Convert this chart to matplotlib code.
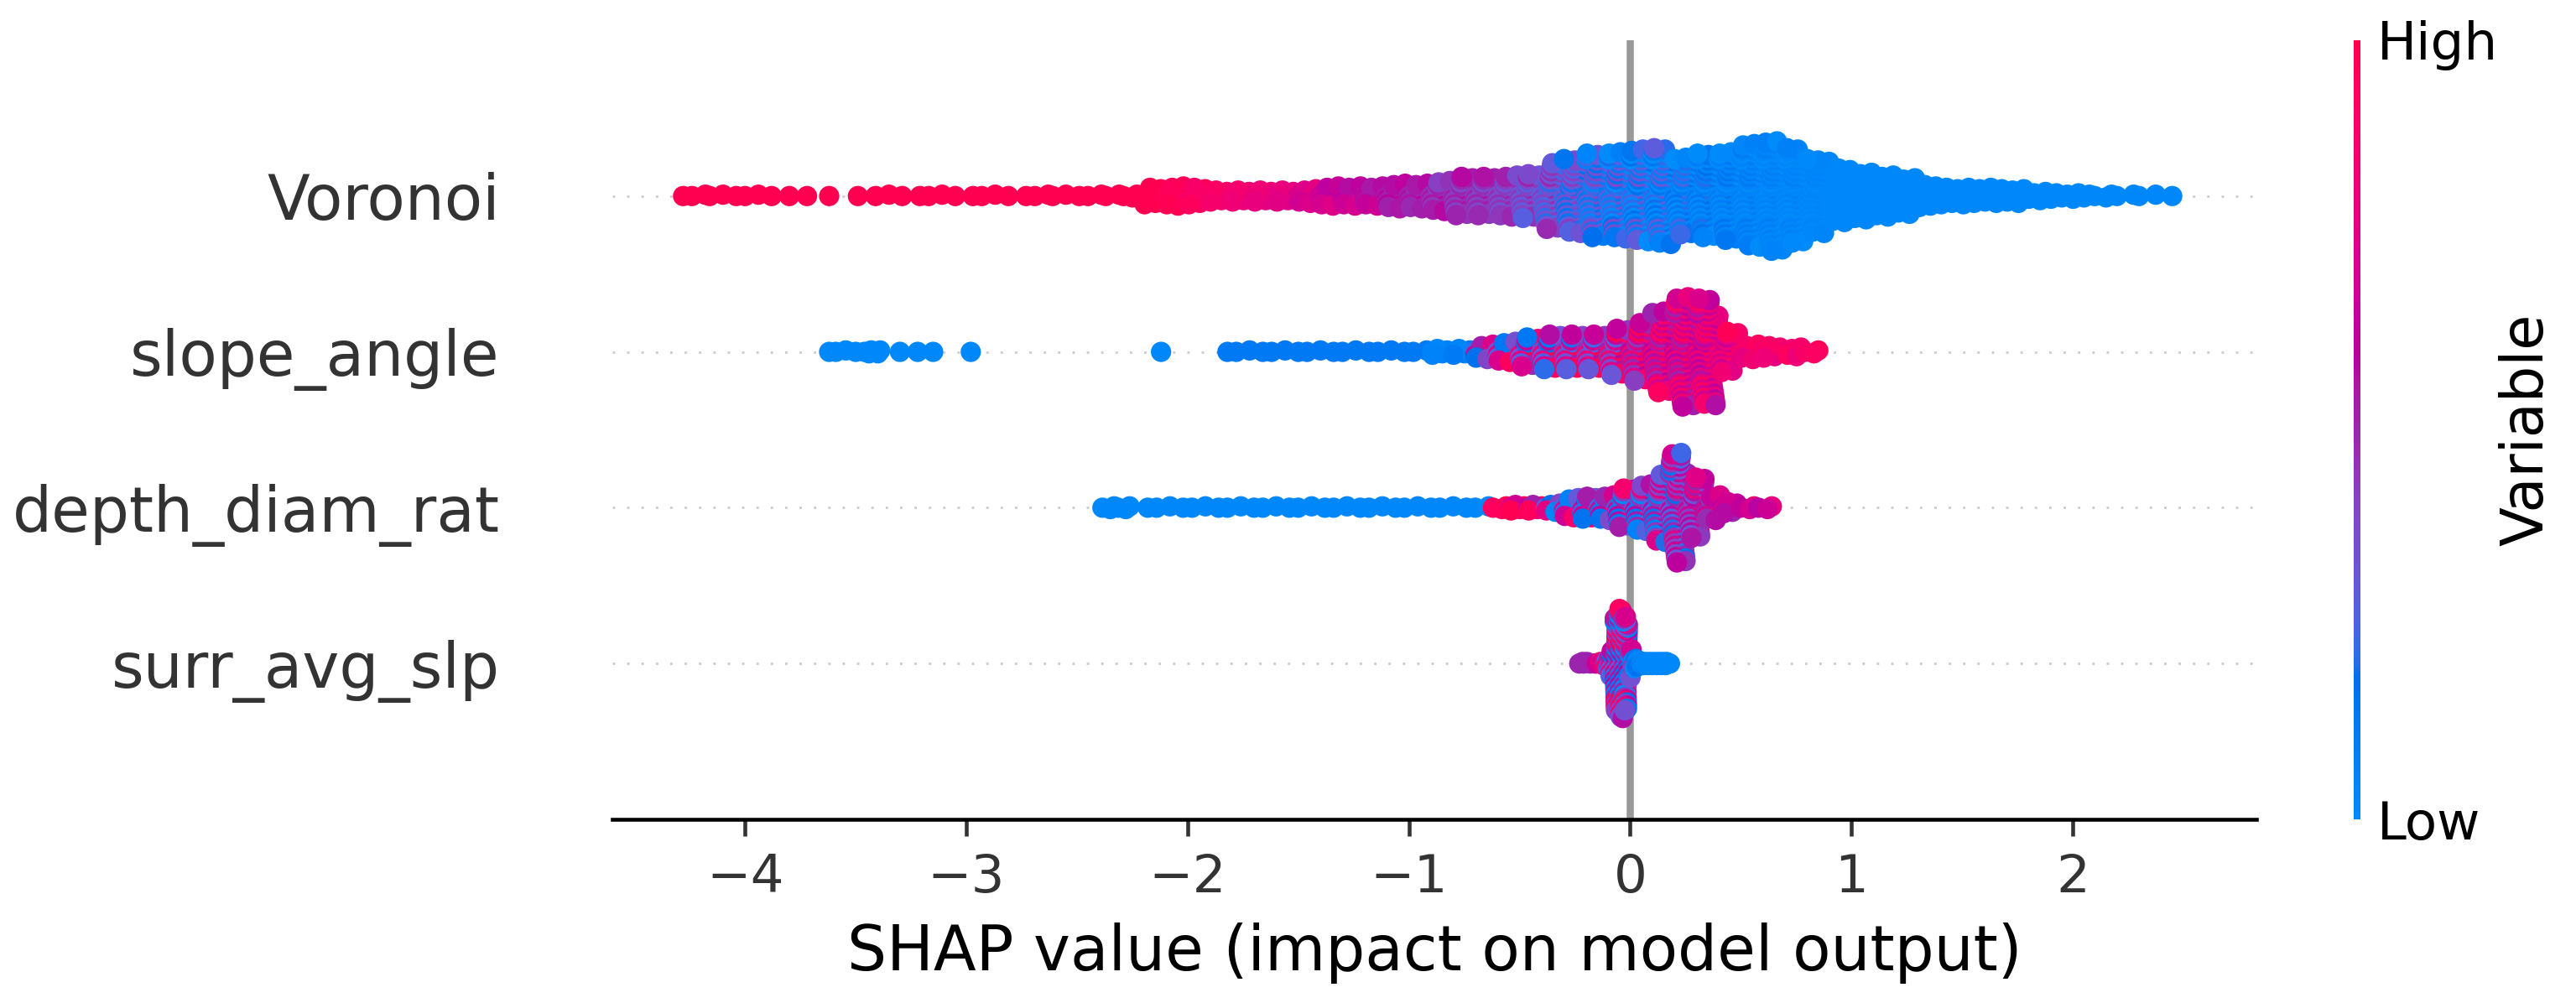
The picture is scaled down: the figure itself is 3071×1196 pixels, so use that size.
import numpy as np
import matplotlib
matplotlib.use("Agg")
import matplotlib.pyplot as plt
from matplotlib.colors import LinearSegmentedColormap
from matplotlib.cm import ScalarMappable
from matplotlib.colors import Normalize

# ---------------- data ----------------
# rows bottom -> top
feature_names = ["surr_avg_slp", "depth_diam_rat", "slope_angle", "Voronoi"]
xlabel_text = "SHAP value (impact on model output)"
cbar_label = "Variable"
cbar_ticklabels = ["Low", "High"]

# Voronoi: SHAP value bin centres, number of points, mean (normalised) feature value, spread of values
voronoi_x = [-4.28, -4.2, -4.12, -4.04, -3.96, -3.88, -3.8, -3.72, -3.62, -3.49,
             -3.37, -3.29, -3.21, -3.13, -3.05, -2.97, -2.89, -2.81, -2.73, -2.65,
             -2.57, -2.49, -2.41, -2.33, -2.25,
             -2.15, -2.05, -1.95, -1.85, -1.75, -1.65, -1.55, -1.45, -1.35, -1.25,
             -1.15, -1.05, -0.95, -0.85, -0.75, -0.65, -0.55, -0.45, -0.35, -0.25,
             -0.15, -0.05, 0.05, 0.15, 0.25, 0.35, 0.45, 0.55, 0.65, 0.75,
             0.85, 0.95, 1.05, 1.15, 1.25, 1.35, 1.45, 1.55, 1.65, 1.75,
             1.85, 1.95, 2.05, 2.15, 2.25, 2.35, 2.45]
voronoi_n = [1, 2, 2, 1, 2, 1, 1, 1, 1, 1,
             2, 1, 1, 2, 1, 1, 2, 1, 1, 2,
             2, 1, 2, 2, 3,
             13, 15, 13, 9, 9, 9, 9, 11, 15, 15,
             15, 19, 19, 23, 29, 29, 31, 33, 49, 55,
             62, 64, 68, 71, 57, 62, 65, 76, 81, 70,
             55, 40, 35, 31, 27, 17, 13, 13, 12, 11,
             7, 5, 5, 3, 2, 2, 1]
voronoi_c = [1.0] * 25 + \
            [1.0, 0.97, 0.93, 0.9, 0.86, 0.82, 0.78, 0.72, 0.67, 0.63,
             0.6, 0.56, 0.53, 0.5, 0.48, 0.46, 0.42, 0.38, 0.34, 0.28,
             0.22, 0.18, 0.15, 0.13, 0.1, 0.08, 0.06, 0.05, 0.04, 0.03,
             0.03, 0.02, 0.02, 0.02, 0.02, 0.02, 0.02, 0.02, 0.02, 0.02,
             0.02, 0.02, 0.02, 0.02, 0.02, 0.02, 0.02]
voronoi_mix = [0.0] * 25 + \
              [0.0, 0.05, 0.1, 0.1, 0.1, 0.1, 0.1, 0.12, 0.15, 0.15,
               0.15, 0.15, 0.15, 0.2, 0.2, 0.2, 0.2, 0.25, 0.3, 0.3,
               0.35, 0.4, 0.4, 0.35, 0.3, 0.25, 0.2, 0.15, 0.1, 0.1,
               0.05, 0.0, 0.0, 0.0, 0.0, 0.0, 0.0, 0.0, 0.0, 0.0,
               0.0, 0.0, 0.0, 0.0, 0.0, 0.0, 0.0]

slope_x = [-3.62, -3.56, -3.5, -3.44, -3.4, -3.3, -3.22, -3.15, -2.98, -2.12,
           -1.82, -1.74, -1.66, -1.58, -1.5, -1.42, -1.34, -1.26, -1.18, -1.1, -1.02, -0.94,
           -0.85, -0.75, -0.65, -0.55, -0.45, -0.35, -0.25, -0.15, -0.05, 0.05,
           0.15, 0.25, 0.35, 0.45, 0.55, 0.65, 0.75, 0.83]
slope_n = [1, 2, 1, 3, 3, 1, 1, 1, 1, 1,
           1, 2, 1, 2, 1, 2, 1, 2, 1, 2, 1, 2,
           5, 5, 11, 15, 21, 25, 25, 25, 33, 41,
           57, 77, 75, 29, 11, 9, 7, 3]
slope_c = [0.02] * 10 + [0.12] * 12 + \
          [0.05, 0.08, 0.4, 0.5, 0.55, 0.55, 0.6, 0.62, 0.65, 0.7,
           0.72, 0.72, 0.75, 0.8, 0.85, 0.88, 0.9, 0.92]
slope_mix = [0.0] * 22 + \
            [0.05, 0.1, 0.9, 0.95, 0.95, 0.95, 0.9, 0.85, 0.8, 0.6,
             0.5, 0.45, 0.4, 0.35, 0.25, 0.2, 0.15, 0.1]

depth_x = [-2.35, -2.28,
           -2.18, -2.1, -2.02, -1.94, -1.86, -1.78, -1.7, -1.62, -1.54, -1.46,
           -1.38, -1.3, -1.22, -1.14, -1.06, -0.98, -0.9, -0.82, -0.74, -0.66,
           -0.58, -0.5, -0.42, -0.34, -0.26, -0.18, -0.1, -0.02, 0.06, 0.14,
           0.22, 0.3, 0.38, 0.46, 0.54, 0.62]
depth_n = [3, 3,
           1, 2, 1, 2, 1, 2, 1, 2, 1, 2,
           1, 2, 1, 2, 1, 2, 1, 2, 1, 2,
           3, 5, 5, 7, 15, 17, 19, 29, 35, 51,
           81, 45, 19, 9, 3, 3]
depth_c = [0.02] * 22 + \
          [0.95, 0.85, 0.75, 0.5, 0.45, 0.45, 0.42, 0.42, 0.4, 0.4,
           0.45, 0.55, 0.6, 0.65, 0.68, 0.65]
depth_mix = [0.0] * 22 + \
            [0.1, 0.5, 0.7, 0.95, 0.95, 0.95, 0.9, 0.9, 0.8, 0.7,
             0.6, 0.5, 0.4, 0.3, 0.3, 0.3]

surr_x = [-0.22, -0.2, -0.18, -0.16, -0.14, -0.12, -0.1, -0.08, -0.06, -0.04,
          -0.02, 0.0, 0.02, 0.04, 0.06, 0.08, 0.1, 0.12, 0.14, 0.16, 0.18]
surr_n = [2, 2, 1, 1, 2, 3, 7, 17, 61, 71,
          61, 19, 7, 5, 3, 3, 3, 3, 3, 3, 1]
surr_c = [0.5, 0.5, 0.5, 0.55, 0.7, 0.75, 0.6, 0.55, 0.5, 0.5,
          0.45, 0.4, 0.25, 0.1, 0.05, 0.03, 0.03, 0.03, 0.03, 0.03, 0.03]
surr_mix = [0.0, 0.0, 0.0, 0.1, 0.3, 0.4, 0.8, 0.95, 0.95, 0.95,
            0.95, 0.9, 0.6, 0.2, 0.05, 0.0, 0.0, 0.0, 0.0, 0.0, 0.0]

series = [
    (surr_x, surr_n, surr_c, surr_mix),
    (depth_x, depth_n, depth_c, depth_mix),
    (slope_x, slope_n, slope_c, slope_mix),
    (voronoi_x, voronoi_n, voronoi_c, voronoi_mix),
]

# ---------------- SHAP red_blue colormap (Lch interpolation) ----------------
def lab_to_rgb(L, a, b):
    fy = (L + 16.0) / 116.0
    fx = fy + a / 500.0
    fz = fy - b / 200.0

    def finv(t):
        return t ** 3 if t ** 3 > 0.008856 else (t - 16.0 / 116.0) / 7.787

    X = 0.95047 * finv(fx)
    Y = 1.00000 * finv(fy)
    Z = 1.08883 * finv(fz)
    r = 3.2406 * X - 1.5372 * Y - 0.4986 * Z
    g = -0.9689 * X + 1.8758 * Y + 0.0415 * Z
    bl = 0.0557 * X - 0.2040 * Y + 1.0570 * Z
    out = []
    for v in (r, g, bl):
        v = 1.055 * v ** (1 / 2.4) - 0.055 if v > 0.0031308 else 12.92 * v
        out.append(min(max(v, 0.0), 1.0))
    return out


blue_lch = [54.0, 70.0, 4.6588]
red_lch = [54.0, 90.0, 0.35470565 + 2 * np.pi]
l_mid = 40.0
nsteps = 100
l_vals = list(np.linspace(blue_lch[0], l_mid, nsteps // 2)) + list(np.linspace(l_mid, red_lch[0], nsteps // 2))
c_vals = np.linspace(blue_lch[1], red_lch[1], nsteps)
h_vals = np.linspace(blue_lch[2], red_lch[2], nsteps)
cols = []
for pos, l, c, h in zip(np.linspace(0, 1, nsteps), l_vals, c_vals, h_vals):
    cols.append((pos, lab_to_rgb(l, c * np.cos(h), c * np.sin(h))))
red_blue = LinearSegmentedColormap.from_list("red_blue", cols)

# ---------------- figure ----------------
DPI = 411
fig = plt.figure(figsize=(3071 / DPI, 1196 / DPI), dpi=DPI)
ax = fig.add_axes([0.2377, 0.1831, 0.6382, 0.7768])

axis_color = "#333333"
row_height = 0.4
golden = 0.6180339887
silver = 0.7548776662

ax.axvline(x=0, color="#999999", zorder=-1)
for pos in range(len(feature_names)):
    ax.axhline(y=pos, color="#cccccc", lw=0.5, dashes=(1, 5), zorder=-1)

for row, (xs, ns, cs, ms) in enumerate(series):
    xs_arr = np.asarray(xs, dtype=float)
    gaps = np.diff(xs_arr)
    left_gap = np.concatenate([[gaps[0]], gaps])
    right_gap = np.concatenate([gaps, [gaps[-1]]])
    widths = np.minimum(np.minimum(left_gap, right_gap), 0.1)
    kmax = max(int(np.ceil((n - 1) / 2)) for n in ns)
    step = 0.9 * row_height / (kmax + 1)
    px, py, pc = [], [], []
    for x, w, n, c, m in zip(xs_arr, widths, ns, cs, ms):
        for layer in range(n):
            off = np.ceil(layer / 2) * ((layer % 2) * 2 - 1)
            tx = ((layer * silver) % 1.0 - 0.5) if n > 1 else 0.0
            tc = (layer * golden + 0.31) % 1.0
            px.append(x + w * tx)
            py.append(row + off * step)
            pc.append(min(max(c + m * (tc - 0.5), 0.0), 1.0))
    ax.scatter(px, py, c=pc, cmap=red_blue, vmin=0, vmax=1, s=18,
               linewidth=0, alpha=1, rasterized=True, zorder=3)

ax.set_xlim(-4.6, 2.83)
ax.set_ylim(-1, len(feature_names))
ax.xaxis.set_ticks_position("bottom")
ax.yaxis.set_ticks_position("none")
for sp in ("right", "top", "left"):
    ax.spines[sp].set_visible(False)
ax.tick_params(color=axis_color, labelcolor=axis_color)
ax.set_yticks(range(len(feature_names)))
ax.set_yticklabels(feature_names, fontsize=13)
ax.tick_params("y", length=20, width=0.5, which="major")
ax.tick_params("x", labelsize=11)
ax.set_xlabel(xlabel_text, fontsize=13)

# colour bar
cax = fig.add_axes([0.9137, 0.1831, 0.0027, 0.7768])
sm = ScalarMappable(norm=Normalize(0, 1), cmap=red_blue)
sm.set_array([])
cb = fig.colorbar(sm, cax=cax, ticks=[0, 1])
cb.set_ticklabels(cbar_ticklabels)
cb.ax.tick_params(labelsize=11, length=0)
cb.set_label(cbar_label, size=12, labelpad=0)
cb.outline.set_visible(False)

fig.savefig("out.png", dpi=DPI)
